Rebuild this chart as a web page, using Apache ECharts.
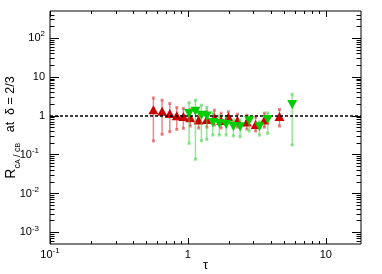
<!DOCTYPE html>
<html><head><meta charset="utf-8">
<script src="https://cdn.jsdelivr.net/npm/echarts@6/dist/echarts.min.js"></script>
<style>html,body{margin:0;padding:0;background:#fff}#c{width:382px;height:274px}</style>
</head><body><div id="c"></div>
<script>
// ---- data ----
const tauRed   = [0.562,0.650,0.739,0.831,0.927,1.04,1.196,1.371,1.557,1.741,1.967,2.287,2.676,3.099,3.591,4.613];
const valRed   = [1.44,1.32,1.15,1.01,0.954,0.889,0.776,0.799,0.899,0.753,0.926,0.753,0.689,0.595,0.776,0.954];
const hiRed    = [2.89,2.53,2.08,1.64,1.55,1.44,1.24,1.32,1.40,1.17,1.27,1.105,1.04,0.926,1.17,1.46];
const loRed    = [0.225,0.334,0.389,0.448,0.475,0.544,0.484,0.513,0.577,0.484,0.669,0.513,0.456,0.405,0.513,0.544];
const tauGreen = [1.020,1.134,1.253,1.371,1.516,1.690,1.893,2.139,2.392,2.781,3.303,3.787,5.704];
const valGreen = [1.15,1.32,1.04,0.994,0.677,0.638,0.601,0.529,0.522,0.744,0.522,0.799,1.96];
const hiGreen  = [2.18,2.53,1.88,1.64,1.19,0.982,0.943,0.776,0.776,0.943,0.702,1.19,3.60];
const loGreen  = [0.196,0.0762,0.229,0.248,0.32,0.32,0.32,0.302,0.29,0.405,0.32,0.354,0.177];
const xRange = [0.1, 18];
const yRange = [5e-4, 500];
const xMajorExp = [-1, 0, 1];
const xTickLabels = ['10^-1', '1', '10'];
const yMajorExp = [-3, -2, -1, 0, 1, 2];
const yTickLabels = ['10^-3', '10^-2', '10^-1', '1', '10', '10^2'];
const refLevel = 1;
const xTitle = 'τ';

// ---- helpers ----
const L = v => Math.log10(v);
const FONT = 'Liberation Sans, Arial, Helvetica, sans-serif';
function minorTicks(range) {
  const out = [];
  const lo = L(range[0]), hi = L(range[1]);
  for (let e = Math.floor(lo) - 1; e <= Math.ceil(hi); e++) {
    for (let m = 2; m <= 9; m++) {
      const v = e + L(m);
      if (v > lo + 1e-9 && v < hi - 1e-9) out.push(v);
    }
  }
  return out;
}
function richLabel(s, pad) {
  const p = s.split('^');
  let r = p.length > 1 ? '{b|' + p[0] + '}{sup|' + p[1] + '}' : '{b|' + p[0] + '}';
  if (pad && p.length > 1 && p[1].startsWith('-')) r += '{gap| }';
  return r;
}
const labelRich = {
  b: {fontSize: 11, lineHeight: 16, fontFamily: FONT, color: '#000'},
  sup: {fontSize: 8, lineHeight: 8, verticalAlign: 'top', fontFamily: FONT, color: '#000'},
  gap: {width: 6, fontSize: 11, lineHeight: 16}
};
const blank = {show: false};
function mkAxis(dir, pos, range, tickVals, len, labels, extra) {
  const ax = {
    type: 'value', position: pos, min: L(range[0]), max: L(range[1]),
    axisLine: {show: false, onZero: false},
    splitLine: blank,
    axisTick: {show: true, inside: true, length: len, customValues: tickVals, lineStyle: {color: '#000', width: 1}},
    axisLabel: blank
  };
  if (labels) {
    const exps = dir === 'x' ? xMajorExp : yMajorExp;
    ax.axisLabel = {
      show: true, customValues: exps, margin: dir === 'x' ? 3 : 5,
      formatter: v => { const i = exps.findIndex(e => Math.abs(e - v) < 1e-6); return i < 0 ? '' : richLabel(labels[i], dir === 'y'); },
      rich: labelRich
    };
  }
  return Object.assign(ax, extra || {});
}
const xMinor = minorTicks(xRange), yMinor = minorTicks(yRange);

function errSeries(taus, lo, hi, color, z) {
  return {
    type: 'custom', xAxisIndex: 0, yAxisIndex: 0, z: z, clip: true, silent: true,
    data: taus.map((t, i) => [L(t), L(lo[i]), L(hi[i])]),
    encode: {x: 0, y: [1, 2]},
    renderItem: (params, api) => {
      const x = api.value(0);
      const a = api.coord([x, api.value(1)]);
      const b = api.coord([x, api.value(2)]);
      return {type: 'group', children: [
        {type: 'line', shape: {x1: a[0], y1: a[1], x2: b[0], y2: b[1]}, style: {stroke: color, lineWidth: 1.5}},
        {type: 'rect', shape: {x: a[0] - 1.5, y: a[1] - 1.5, width: 3, height: 3}, style: {fill: color}},
        {type: 'rect', shape: {x: b[0] - 1.5, y: b[1] - 1.5, width: 3, height: 3}, style: {fill: color}}
      ]};
    }
  };
}

const chart = echarts.init(document.getElementById('c'), null, {renderer: 'canvas'});
chart.setOption({
  animation: false,
  textStyle: {fontFamily: FONT},
  grid: {left: 50, right: 21, top: 11, bottom: 30, containLabel: false, outerBoundsMode: 'none',
         show: true, borderColor: '#000', borderWidth: 1, backgroundColor: 'transparent'},
  xAxis: [
    mkAxis('x', 'bottom', xRange, xMajorExp, 6, xTickLabels, {
      name: xTitle, nameLocation: 'middle', nameGap: 15, nameMoveOverlap: false,
      nameTextStyle: {fontSize: 13, color: '#000', fontFamily: FONT}
    }),
    mkAxis('x', 'bottom', xRange, xMinor, 3, null),
    mkAxis('x', 'top', xRange, xMajorExp, 6, null),
    mkAxis('x', 'top', xRange, xMinor, 3, null)
  ],
  yAxis: [
    mkAxis('y', 'left', yRange, yMajorExp, 9, yTickLabels, {
      name: '{R|R}{s|c}{ss|A}{s| / c}{ss|B}{t|   at  δ = 2/3}',
      nameLocation: 'middle', nameGap: 28, nameRotate: 90, nameMoveOverlap: false,
      nameTextStyle: {
        color: '#000', fontFamily: FONT,
        rich: {
          R: {fontSize: 14, lineHeight: 22, fontFamily: FONT, color: '#000'},
          s: {fontSize: 9, lineHeight: 14, verticalAlign: 'bottom', fontFamily: FONT, color: '#000'},
          ss: {fontSize: 7, lineHeight: 9, verticalAlign: 'bottom', fontFamily: FONT, color: '#000'},
          t: {fontSize: 12.5, lineHeight: 22, fontFamily: FONT, color: '#000'}
        }
      }
    }),
    mkAxis('y', 'left', yRange, yMinor, 4.5, null),
    mkAxis('y', 'right', yRange, yMajorExp, 9, null),
    mkAxis('y', 'right', yRange, yMinor, 4.5, null)
  ],
  series: [
    Object.assign(errSeries(tauRed, loRed, hiRed, 'rgba(215,60,60,0.6)', 2), {
      markLine: {
        silent: true, symbol: 'none', label: {show: false},
        lineStyle: {color: '#000', type: [3, 2], width: 1.5},
        data: [{yAxis: L(refLevel)}]
      }
    }),
    {
      type: 'scatter', xAxisIndex: 0, yAxisIndex: 0, z: 3,
      symbol: 'triangle', symbolSize: [10, 9],
      itemStyle: {color: '#cc0000', opacity: 1},
      data: tauRed.map((t, i) => [L(t), L(valRed[i])])
    },
    errSeries(tauGreen, loGreen, hiGreen, 'rgba(60,210,60,0.55)', 4),
    {
      type: 'scatter', xAxisIndex: 0, yAxisIndex: 0, z: 5,
      symbol: 'triangle', symbolSize: [10, 9], symbolRotate: 180,
      itemStyle: {color: '#00cc00', opacity: 1},
      data: tauGreen.map((t, i) => [L(t), L(valGreen[i])])
    }
  ]
});
</script>
</body></html>
